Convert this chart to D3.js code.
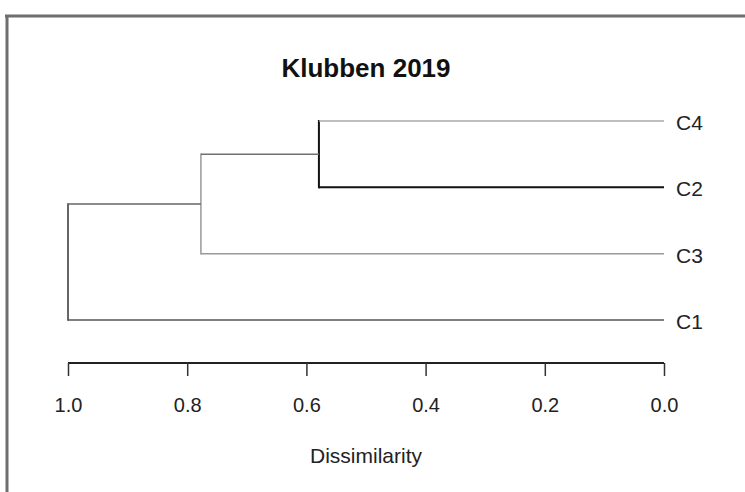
<!DOCTYPE html>
<html><head><meta charset="utf-8">
<script src="https://cdn.jsdelivr.net/npm/d3@7"></script>
<style>html,body{margin:0;padding:0;background:#fff;}svg{display:block;}</style>
</head><body>
<svg id="chart" width="745" height="492"></svg>
<script>
// ---- data ----
const title = "Klubben 2019";
const axisLabel = "Dissimilarity";
const leaves = ["C4", "C2", "C3", "C1"];
const mergeNames = ["m1", "m2", "root"];
const mergeLeft = ["C4", "m1", "m2"];
const mergeRight = ["C2", "C3", "C1"];
const mergeHeights = [0.579, 0.777, 1.0];
const tickValues = [1.0, 0.8, 0.6, 0.4, 0.2, 0.0];

// ---- drawing ----
const svg = d3.select("#chart");
const W = 745, H = 492;
const FONT = "Liberation Sans, Arial, sans-serif";

// frame (partial border of the screenshot)
svg.append("line").attr("x1", 5).attr("x2", W).attr("y1", 16).attr("y2", 16)
  .attr("stroke", "#6e6e6e").attr("stroke-width", 3);
svg.append("line").attr("x1", 7).attr("x2", 7).attr("y1", 15).attr("y2", H)
  .attr("stroke", "#6e6e6e").attr("stroke-width", 3);

const x = d3.scaleLinear().domain([1, 0]).range([68, 664]);
const y = d3.scalePoint().domain(leaves).range([121, 320]);

// node positions
const pos = {};
leaves.forEach(l => pos[l] = {x: x(0), y: y(l)});
mergeNames.forEach((m, i) => {
  const a = pos[mergeLeft[i]], b = pos[mergeRight[i]];
  pos[m] = {x: x(mergeHeights[i]), y: (a.y + b.y) / 2};
});

// segment styles (matching the rendered look of the reference)
const childStyle = {
  C4: {c: "#a8a8a8", w: 1.5},
  C2: {c: "#111", w: 2},
  C3: {c: "#9a9a9a", w: 1.5},
  C1: {c: "#555", w: 1.5},
  m1: {c: "#707070", w: 1.5},
  m2: {c: "#666", w: 1.5}
};
const vertStyle = {
  m1: {c: "#111", w: 2},
  m2: {c: "#999", w: 1.5},
  root: {c: "#333", w: 1.5}
};

const g = svg.append("g");
mergeNames.forEach((m, i) => {
  const p = pos[m];
  const kids = [mergeLeft[i], mergeRight[i]];
  const vs = vertStyle[m];
  g.append("line").attr("x1", p.x).attr("x2", p.x)
    .attr("y1", pos[kids[0]].y).attr("y2", pos[kids[1]].y)
    .attr("stroke", vs.c).attr("stroke-width", vs.w).attr("stroke-linecap", "square");
  kids.forEach(k => {
    const s = childStyle[k];
    g.append("line").attr("x1", p.x).attr("x2", pos[k].x)
      .attr("y1", pos[k].y).attr("y2", pos[k].y)
      .attr("stroke", s.c).attr("stroke-width", s.w);
  });
});

// leaf labels
svg.selectAll("text.leaf").data(leaves).enter().append("text")
  .attr("class", "leaf")
  .attr("x", x(0) + 12).attr("y", d => y(d) + 9)
  .attr("font-family", FONT)
  .attr("font-size", 21).attr("fill", "#222")
  .text(d => d);

// axis
const axisG = svg.append("g").attr("transform", "translate(0,363)")
  .call(d3.axisBottom(x).tickValues(tickValues).tickFormat(d3.format(".1f"))
    .tickSize(13).tickPadding(22));
axisG.select(".domain").attr("stroke", "#222").attr("stroke-width", 2)
  .attr("d", `M${x(1)},0H${x(0)}`);
axisG.selectAll(".tick line").attr("stroke", "#333").attr("stroke-width", 1.5);
axisG.selectAll(".tick text").attr("font-family", FONT)
  .attr("font-size", 20).attr("fill", "#222");

// axis title
svg.append("text").attr("x", (x(1) + x(0)) / 2).attr("y", 463)
  .attr("text-anchor", "middle")
  .attr("font-family", FONT)
  .attr("font-size", 21).attr("fill", "#222")
  .text(axisLabel);

// chart title
svg.append("text").attr("x", (x(1) + x(0)) / 2).attr("y", 77)
  .attr("text-anchor", "middle")
  .attr("font-family", FONT)
  .attr("font-weight", "bold")
  .attr("font-size", 26).attr("fill", "#111")
  .text(title);
</script>
</body></html>
